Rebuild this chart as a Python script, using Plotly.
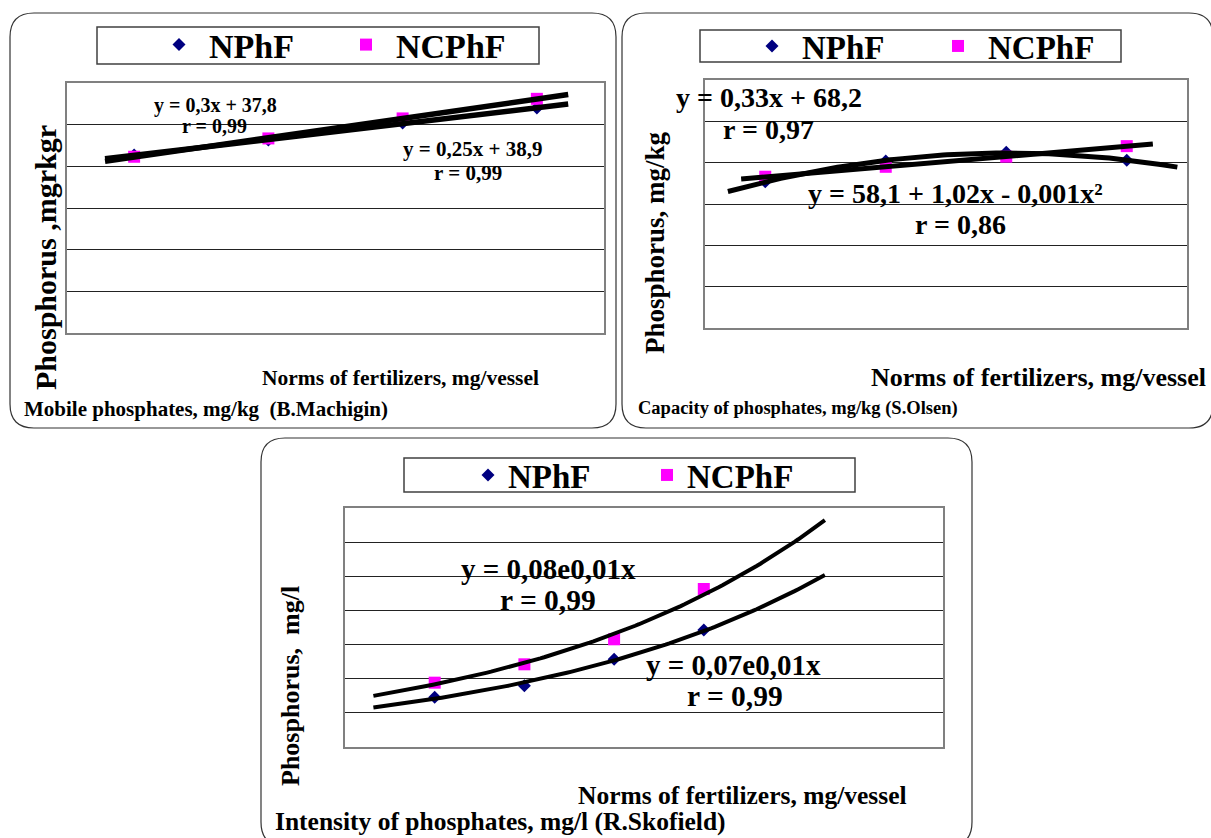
import numpy as np
import plotly.graph_objects as go

# ---------------- data (arbitrary hidden units) ----------------
norms = [30, 60, 90, 120]                      # fertilizer norms, mg/vessel (categories)
series_names = ["NPhF", "NCPhF"]

machigin_nphf = [42.7, 46.3, 50.4, 54.0]       # mobile phosphates (B.Machigin)
machigin_ncphf = [42.3, 46.7, 51.5, 56.2]

olsen_nphf = [35.4, 40.4, 42.5, 40.6]          # capacity of phosphates (S.Olsen)
olsen_ncphf = [36.6, 39.0, 41.45, 44.0]

skofield_nphf = [0.0728, 0.0898, 0.1284, 0.1713]   # intensity of phosphates (R.Skofield)
skofield_ncphf = [0.0942, 0.1211, 0.1577, 0.2314]

# ---------------- layout helpers ----------------
W, H = 1211, 838
FONT = "Liberation Serif"


def fx(x):
    return x / W


def fy(y):
    return 1 - y / H


def rounded(x0, y0, x1, y1, r):
    pts = [
        ("M", x0 + r, y0), ("L", x1 - r, y0), ("Q", x1, y0, x1, y0 + r),
        ("L", x1, y1 - r), ("Q", x1, y1, x1 - r, y1), ("L", x0 + r, y1),
        ("Q", x0, y1, x0, y1 - r), ("L", x0, y0 + r), ("Q", x0, y0, x0 + r, y0),
    ]
    s = ""
    for p in pts:
        if p[0] == "Q":
            s += f"Q{fx(p[1]):.5f},{fy(p[2]):.5f} {fx(p[3]):.5f},{fy(p[4]):.5f} "
        else:
            s += f"{p[0]}{fx(p[1]):.5f},{fy(p[2]):.5f} "
    return s + "Z"


fig = go.Figure()

NAVY = "#000080"
MAG = "#FF00FF"


def add_points(xa, ya, legend, y1, y2):
    fig.add_trace(go.Scatter(x=norms, y=y1, mode="markers", name=series_names[0],
                             marker=dict(symbol="diamond", size=10, color=NAVY),
                             xaxis=xa, yaxis=ya, legend=legend))
    fig.add_trace(go.Scatter(x=norms, y=y2, mode="markers", name=series_names[1],
                             marker=dict(symbol="square", size=12, color=MAG),
                             xaxis=xa, yaxis=ya, legend=legend))


def add_trend(xa, ya, ys, kind, back, fwd, width):
    x = np.array(norms, dtype=float)
    y = np.array(ys, dtype=float)
    xs = np.linspace(x.min() - back, x.max() + fwd, 120)
    if kind == "lin":
        yt = np.polyval(np.polyfit(x, y, 1), xs)
    elif kind == "quad":
        yt = np.polyval(np.polyfit(x, y, 2), xs)
    else:  # exponential
        k, b = np.polyfit(x, np.log(y), 1)
        yt = np.exp(b + k * xs)
    fig.add_trace(go.Scatter(x=xs, y=yt, mode="lines", showlegend=False, hoverinfo="skip",
                             line=dict(color="black", width=width), xaxis=xa, yaxis=ya))


# panel 1
add_points("x", "y", "legend", machigin_nphf, machigin_ncphf)
add_trend("x", "y", machigin_nphf, "lin", 6.5, 7, 5.5)
add_trend("x", "y", machigin_ncphf, "lin", 6.5, 7, 5.5)
# panel 2
add_points("x2", "y2", "legend2", olsen_nphf, olsen_ncphf)
add_trend("x2", "y2", olsen_ncphf, "lin", 6, 6.5, 5)
add_trend("x2", "y2", olsen_nphf, "quad", 9.3, 12.6, 5)
# panel 3
add_points("x3", "y3", "legend3", skofield_nphf, skofield_ncphf)
add_trend("x3", "y3", skofield_ncphf, "exp", 20.5, 40.5, 4)
add_trend("x3", "y3", skofield_nphf, "exp", 20.5, 40.5, 4)

axis_common = dict(showticklabels=False, ticks="", zeroline=False, showline=True, mirror=True,
                   linecolor="#808080", linewidth=2)
xgrid = dict(showgrid=False)
ygrid = dict(showgrid=True, gridcolor="#222222", gridwidth=1)

layout = dict(
    width=W, height=H, autosize=False,
    margin=dict(l=0, r=0, t=0, b=0),
    paper_bgcolor="white", plot_bgcolor="white",
    xaxis=dict(domain=[fx(67), fx(604)], range=[15, 135], anchor="y", **axis_common, **xgrid),
    yaxis=dict(domain=[fy(333), fy(83)], range=[0, 60], dtick=10, anchor="x", **axis_common, **ygrid),
    xaxis2=dict(domain=[fx(705), fx(1187)], range=[15, 135], anchor="y2", **axis_common, **xgrid),
    yaxis2=dict(domain=[fy(328), fy(80)], range=[0, 60], dtick=10, anchor="x2", **axis_common, **ygrid),
    xaxis3=dict(domain=[fx(345), fx(943)], range=[0, 200], anchor="y3", **axis_common, **xgrid),
    yaxis3=dict(domain=[fy(747), fy(508)], range=[0, 0.35], dtick=0.05, anchor="x3", **axis_common, **ygrid),
    showlegend=True,
)

leg_common = dict(orientation="h", bgcolor="rgba(0,0,0,0)", borderwidth=0,
                  xanchor="left", yanchor="middle", entrywidthmode="pixels", itemclick=False)
layout["legend"] = dict(x=fx(149), y=fy(45), entrywidth=122, itemwidth=50,
                        font=dict(family=FONT, size=34, color="black", weight="bold"), **leg_common)
layout["legend2"] = dict(x=fx(742), y=fy(46), entrywidth=121, itemwidth=50,
                         font=dict(family=FONT, size=33, color="black", weight="bold"), **leg_common)
layout["legend3"] = dict(x=fx(468), y=fy(475), entrywidth=134, itemwidth=30,
                         font=dict(family=FONT, size=33, color="black", weight="bold"), **leg_common)

fig.update_layout(**layout)

shapes = [
    dict(type="path", path=rounded(10, 13, 616, 428, 24)),
    dict(type="path", path=rounded(622, 13, 1213, 428, 24)),
    dict(type="path", path=rounded(261, 438, 972, 846, 24)),
]
for s in shapes:
    s.update(xref="paper", yref="paper", line=dict(color="#333333", width=1.2), layer="below")
boxes = [(97, 27, 539, 64), (700, 30, 1121, 62), (404, 458, 855, 492)]
for (x0, y0, x1, y1) in boxes:
    shapes.append(dict(type="rect", xref="paper", yref="paper", x0=fx(x0), y0=fy(y0), x1=fx(x1), y1=fy(y1),
                       line=dict(color="#404040", width=1.5)))
fig.update_layout(shapes=shapes)


def note(text, x, y, size, xanchor="center", angle=0):
    fig.add_annotation(text=text, x=fx(x), y=fy(y), xref="paper", yref="paper", showarrow=False,
                       xanchor=xanchor, yanchor="middle", textangle=angle,
                       font=dict(family=FONT, size=size, color="black", weight="bold"))


# panel 1 texts
note("y = 0,3x + 37,8", 215, 105, 20)
note("r = 0,99", 214, 126, 20)
note("y = 0,25x + 38,9", 472, 149, 21)
note("r = 0,99", 468, 173, 21)
note("Phosphorus ,mgrkgr", 45, 258, 30, angle=-90)
note("Norms of fertilizers, mg/vessel", 400, 378, 21.5)
note("Mobile phosphates, mg/kg  (B.Machigin)", 22, 409, 21, xanchor="left")
# panel 2 texts
note("y = 0,33x + 68,2", 769, 98, 28)
note("r = 0,97", 768, 129, 28)
note("y = 58,1 + 1,02x - 0,001x²", 955, 193, 28)
note("r = 0,86", 960, 225, 28)
note("Phosphorus, mg/kg", 655, 243, 27, angle=-90)
note("Norms of fertilizers, mg/vessel", 869, 378, 26, xanchor="left")
note("Capacity of phosphates, mg/kg (S.Olsen)", 636, 408, 18.5, xanchor="left")
# panel 3 texts
note("y = 0,08e0,01x", 548, 569, 29)
note("r = 0,99", 548, 600, 29.5)
note("y = 0,07e0,01x", 733, 665, 29)
note("r = 0,99", 735, 696, 29.5)
note("Phosphorus,  mg/l", 290, 686, 26, angle=-90)
note("Norms of fertilizers, mg/vessel", 742, 795, 25.5)
note("Intensity of phosphates, mg/l (R.Skofield)", 273, 821, 25.5, xanchor="left")

fig.write_html("out.html", config=dict(displayModeBar=False),
               post_script="document.body.style.margin='0';document.body.style.overflow='hidden';")
